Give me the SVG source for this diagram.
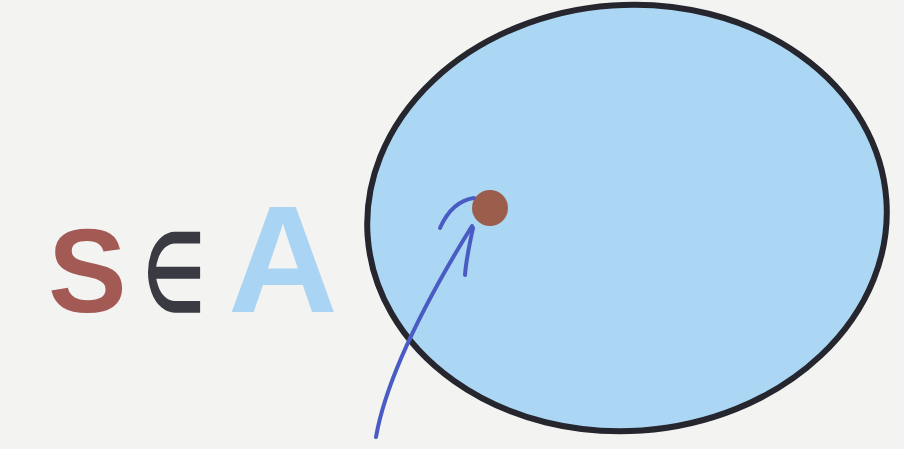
<svg xmlns="http://www.w3.org/2000/svg" width="904" height="449" viewBox="0 0 904 449">
<style>
.t{font-family:"Liberation Sans",Arial,sans-serif;font-weight:bold}
.arr{fill:none;stroke:#4a5cc4;stroke-width:4;stroke-linecap:round}
</style>
<rect width="904" height="449" fill="#f3f3f1"/>
<g id="setA">
<ellipse cx="627" cy="218" rx="260" ry="213" transform="rotate(-4 627 218)" fill="#acd7f4" stroke="#25262e" stroke-width="6"/>
</g>
<g id="label">
<text class="t" x="48" y="312" font-size="118" fill="#a35a55">S</text>
<text class="t" transform="translate(143 310) scale(0.66 1)" x="0" y="0" font-size="108" font-weight="normal" fill="#3a3a42">∈</text>
<text class="t" x="228" y="312" font-size="152" fill="#aad4f3">A</text>
</g>
<g id="element">
<circle cx="490" cy="208" r="18" fill="#9c5e4c"/>
</g>
<g id="connectors">
<path class="arr" d="M376 437 C386 380 420 310 472 226"/>
<path class="arr" d="M440 228 C448 210 460 200 474 198"/>
<path class="arr" d="M465 275 C466 260 470 242 473 228"/>
</g>
</svg>
